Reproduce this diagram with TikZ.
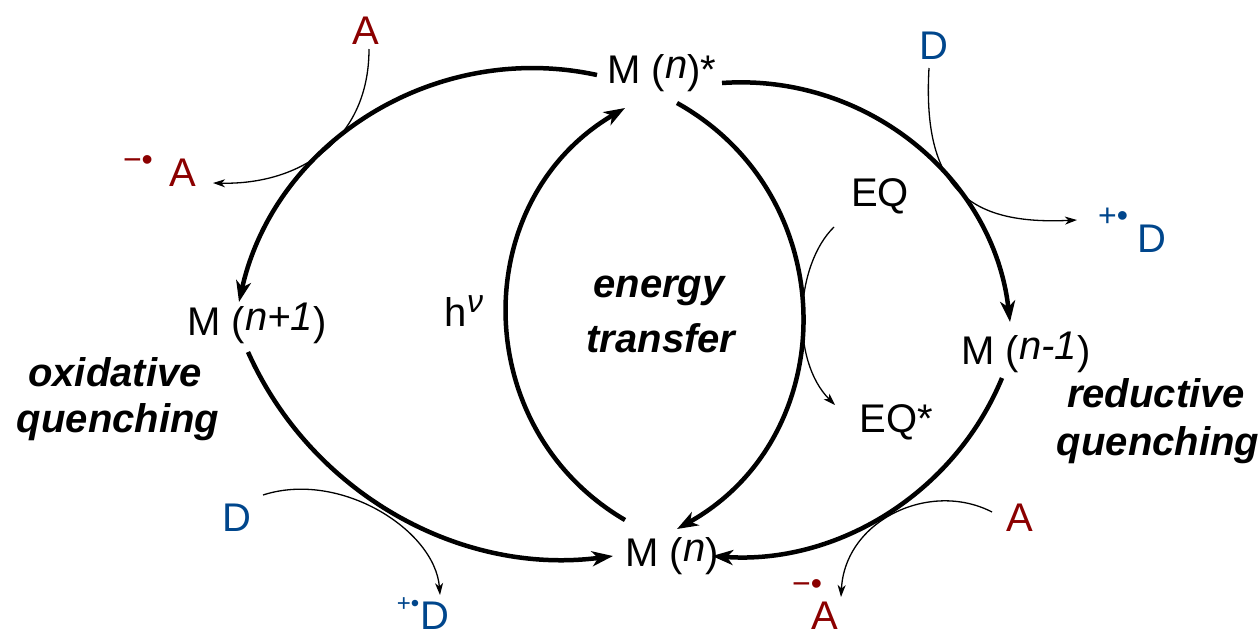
\documentclass[tikz,border=0pt]{standalone}
\usepackage{fontspec}
\setmainfont{Liberation Sans}
\usetikzlibrary{arrows.meta}
\definecolor{redA}{RGB}{139,0,0}
\definecolor{blueD}{RGB}{0,70,140}
\newcommand\itn[1]{\raisebox{0.12em}{\itshape #1}}
\begin{document}
\begin{tikzpicture}[x=1pt,y=-1pt,
  txt/.style={inner sep=0pt, anchor=base, font=\fontsize{40}{48}\selectfont},
  lbl/.style={inner sep=0pt, anchor=base, font=\fontsize{40}{48}\selectfont\bfseries\itshape},
  chg/.style={inner sep=0pt, anchor=base, font=\fontsize{32}{34}\selectfont},
  cyc/.style={line width=4.5pt, -{Stealth[length=21pt,width=15pt,inset=6pt]}},
  thin/.style={line width=1.3pt, -{Stealth[length=12pt,width=8pt,inset=3.5pt]}}]
\useasboundingbox (0,0) rectangle (1260,638);
% species
\node[txt] (mstar) at (662,83) {M (\itn{n})*};
\node[txt] (mplus) at (257,335) {M (\itn{n+1})};
\node[txt] (mminus) at (1026,364) {M (\itn{n-1})};
\node[txt] (mn) at (672,566) {M (\itn{n})};
\node[txt,text=redA] (atop) at (366,44) {A};
\node[txt,text=redA] (aleft) at (183,186) {A};
\node[chg,text=redA] (alc) at (138,170) {−•};
\node[txt,text=blueD] (dtop) at (934,59) {D};
\node[txt,text=blueD] (dright) at (1152,252) {D};
\node[chg,text=blueD] (drc) at (1113,226) {+•};
\node[txt] (eq) at (880,206) {EQ};
\node[txt] (eqs) at (896,432) {EQ*};
\node[txt] (hv) at (464,326) {h\raisebox{0.35em}{\fontsize{32}{32}\selectfont\itshape ν}};
\node[lbl] (en1) at (659,297) {energy};
\node[lbl] (en2) at (661,352) {transfer};
\node[lbl] (ox1) at (115,386) {oxidative};
\node[lbl] (ox2) at (118,432) {quenching};
\node[lbl] (re1) at (1156,407) {reductive};
\node[lbl] (re2) at (1158,455) {quenching};
\node[txt,text=blueD] (dbl) at (237,531) {D};
\node[txt,text=redA] (abr) at (1020,531) {A};
\node[txt,text=blueD] (dbot) at (435,629) {D};
\node[chg,text=blueD,font=\fontsize{24}{26}\selectfont] (dbc) at (408,611) {+•};
\node[txt,text=redA] (abot) at (825,629) {A};
\node[chg,text=redA] (abc) at (807,594) {−•};
% main cycle arcs
\draw[cyc] ([shift={(-65,-8)}]mstar.base) .. controls ([shift={(-226,-43)}]mstar.base) and ([shift={(18,-194)}]mplus.base) .. ([shift={(-18,-33)}]mplus.base);
\draw[cyc] ([shift={(-9,17)}]mplus.base) .. controls ([shift={(54,158)}]mplus.base) and ([shift={(-212,10)}]mn.base) .. ([shift={(-59,-10)}]mn.base);
\draw[cyc] ([shift={(60,0)}]mstar.base) .. controls ([shift={(204.5,-10)}]mstar.base) and ([shift={(-32.5,-186)}]mminus.base) .. ([shift={(-16,-42)}]mminus.base);
\draw[cyc] ([shift={(-24,14)}]mminus.base) .. controls ([shift={(-71.8,129.6)}]mminus.base) and ([shift={(164.8,-1.2)}]mn.base) .. ([shift={(40,-10)}]mn.base);
\draw[cyc] ([shift={(-47,-46)}]mn.base) .. controls ([shift={(-204.3,-138.2)}]mn.base) and ([shift={(-194.3,117.2)}]mstar.base) .. ([shift={(-37,25)}]mstar.base);
\draw[cyc] ([shift={(15,20)}]mstar.base) .. controls ([shift={(181.7,113.1)}]mstar.base) and ([shift={(171.7,-130.2)}]mn.base) .. ([shift={(5,-37)}]mn.base);
% electron / energy transfer arrows
\draw[thin] ([shift={(3,5)}]atop.base) .. controls ([shift={(3,96)}]atop.base) and ([shift={(117,-1)}]aleft.base) .. ([shift={(30,-3)}]aleft.base);
\draw[thin] ([shift={(-5,9)}]dtop.base) .. controls ([shift={(-12,131)}]dtop.base) and ([shift={(-182,-27)}]dright.base) .. ([shift={(-75,-32)}]dright.base);
\draw[thin] ([shift={(-46,21)}]eq.base) .. controls ([shift={(-85,59)}]eq.base) and ([shift={(-106,-72)}]eqs.base) .. ([shift={(-61,-27)}]eqs.base);
\draw[thin] ([shift={(26,-36)}]dbl.base) .. controls ([shift={(103,-61)}]dbl.base) and ([shift={(0,-99)}]dbot.base) .. ([shift={(5,-34)}]dbot.base);
\draw[thin] ([shift={(-28,-19)}]abr.base) .. controls ([shift={(-90,-51)}]abr.base) and ([shift={(20,-109)}]abot.base) .. ([shift={(16,-32)}]abot.base);
\end{tikzpicture}
\end{document}
